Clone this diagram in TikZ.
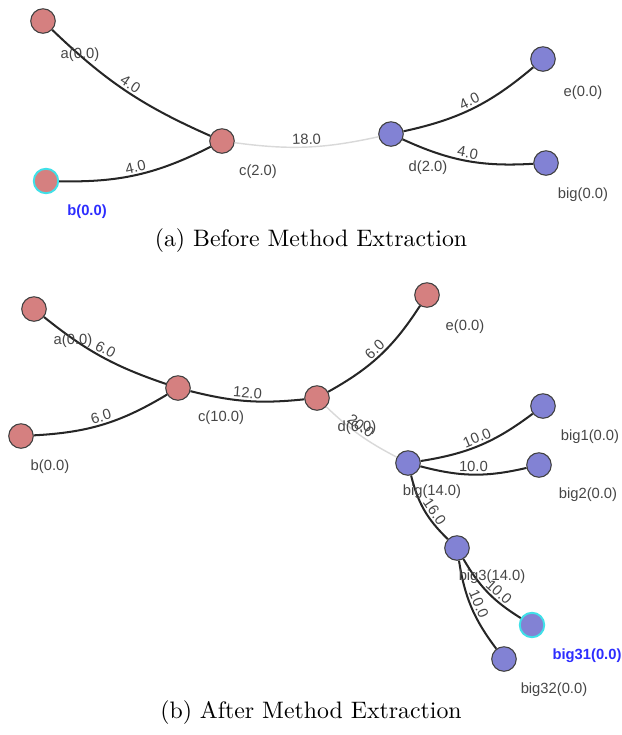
\documentclass[tikz,border=0pt]{standalone}
\usepackage{fontspec}
\newfontfamily\lblfont{Liberation Sans}
\usepackage{xcolor}
\usepackage{tikz}
\definecolor{redfill}{RGB}{213,128,128}
\definecolor{bluefill}{RGB}{130,130,212}
\definecolor{hilite}{RGB}{64,224,232}
\definecolor{lblgrey}{RGB}{70,70,70}
\definecolor{selblue}{RGB}{45,45,255}

\begin{document}
\begin{tikzpicture}[x=0.42pt,y=-0.42pt,
    vtx/.style={circle,draw=black!75,line width=0.45pt,minimum size=10.3pt,inner sep=0pt},
    redv/.style={vtx,fill=redfill},
    bluev/.style={vtx,fill=bluefill},
    sel/.style={draw=hilite,line width=0.8pt},
    edge/.style={line width=0.85pt,black!85},
    faint/.style={line width=0.6pt,black!15},
    wt/.style={midway,sloped,above,inner sep=0.8pt,font=\lblfont\fontsize{6.2}{7}\selectfont,text=lblgrey},
    nlbl/.style={font=\lblfont\fontsize{6.2}{7}\selectfont,text=lblgrey,inner sep=0pt},
    sellbl/.style={nlbl,text=selblue,font=\lblfont\bfseries\fontsize{6.2}{7}\selectfont}]
    \useasboundingbox (0,0) rectangle (622,735);
    % before
    \node[redv] (a1) at (43,21) {};
    \node[redv,sel] (b1) at (46,181) {};
    \node[redv] (c1) at (222,141) {};
    \node[bluev] (d1) at (391,134) {};
    \node[bluev] (e1) at (543,59) {};
    \node[bluev] (big1) at (546,163) {};
    \draw[edge] (a1) to[bend right=10] node[wt] {4.0} (c1);
    \draw[edge] (b1) to[bend right=14] node[wt] {4.0} (c1);
    \draw[faint] (c1) to[bend right=10] node[wt] {18.0} (d1);
    \draw[edge] (d1) to[bend right=14] node[wt] {4.0} (e1);
    \draw[edge] (d1) to[bend right=14] node[wt] {4.0} (big1);
    \node[nlbl] (la1) at (80,55) {a(0.0)};
    \node[sellbl] (lb1) at (87,212) {b(0.0)};
    \node[nlbl] (lc1) at (258,172) {c(2.0)};
    \node[nlbl] (ld1) at (428,168) {d(2.0)};
    \node[nlbl] (le1) at (583,93) {e(0.0)};
    \node[nlbl] (lbig1) at (583,195) {big(0.0)};
    \node (capa) at (311,241) {(a) Before Method Extraction};
    % after
    \node[redv] (a2) at (34,309) {};
    \node[redv] (b2) at (21,436) {};
    \node[redv] (c2) at (178,388) {};
    \node[redv] (d2) at (317,398) {};
    \node[redv] (e2) at (427,295) {};
    \node[bluev] (big2) at (408,463) {};
    \node[bluev] (bigA) at (543,406) {};
    \node[bluev] (bigB) at (539,465) {};
    \node[bluev] (bigC) at (457,548) {};
    \node[bluev,sel] (bigCA) at (532,625) {};
    \node[bluev] (bigCB) at (504,659) {};
    \draw[edge] (a2) to[bend right=10] node[wt] {6.0} (c2);
    \draw[edge] (b2) to[bend right=14] node[wt] {6.0} (c2);
    \draw[edge] (c2) to[bend right=10] node[wt] {12.0} (d2);
    \draw[edge] (d2) to[bend right=14] node[wt] {6.0} (e2);
    \draw[faint] (d2) to[bend right=8] node[wt,pos=0.45] {20.0} (big2);
    \draw[edge] (big2) to[bend right=14] node[wt] {10.0} (bigA);
    \draw[edge] (big2) to[bend right=14] node[wt] {10.0} (bigB);
    \draw[edge] (big2) to[bend right=16] node[wt,pos=0.6] {16.0} (bigC);
    \draw[edge] (bigC) to[bend right=14] node[wt,pos=0.6] {10.0} (bigCA);
    \draw[edge] (bigC) to[bend right=14] node[wt] {10.0} (bigCB);
    \node[nlbl] (la2) at (73,341) {a(0.0)};
    \node[nlbl] (lb2) at (50,467) {b(0.0)};
    \node[nlbl] (lc2) at (221,418) {c(10.0)};
    \node[nlbl] (ld2) at (357,428) {d(6.0)};
    \node[nlbl] (le2) at (465,327) {e(0.0)};
    \node[nlbl] (lbig2) at (432,492) {big(14.0)};
    \node[nlbl] (lbigA) at (590,437) {big1(0.0)};
    \node[nlbl] (lbigB) at (588,495) {big2(0.0)};
    \node[nlbl] (lbigC) at (492,577) {big3(14.0)};
    \node[sellbl] (lbigCA) at (587,656) {big31(0.0)};
    \node[nlbl] (lbigCB) at (554,690) {big32(0.0)};
    \node (capb) at (311,713) {(b) After Method Extraction};
\end{tikzpicture}
\end{document}
